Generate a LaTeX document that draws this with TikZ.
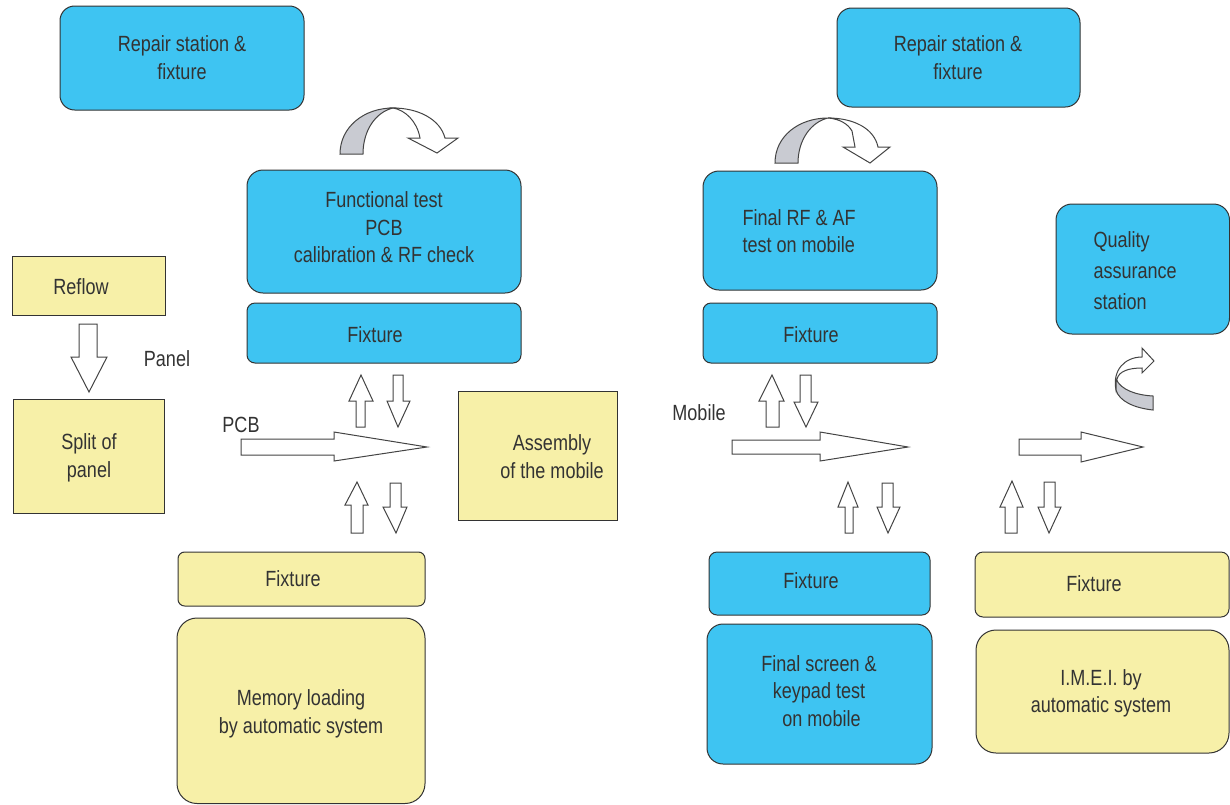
\documentclass[tikz,border=0pt]{standalone}
\usepackage{fontspec}
\setmainfont{Liberation Sans}[FakeStretch=0.82]

\definecolor{stationblue}{HTML}{3EC4F2}
\definecolor{stationyellow}{HTML}{F7F0A8}
\definecolor{boxline}{HTML}{333333}
\definecolor{arrowline}{HTML}{444444}
\definecolor{bandgray}{HTML}{C9CBD2}
\definecolor{labelgray}{HTML}{333333}

\tikzset{every picture/.style={line width=0.75pt}}
\tikzset{
  bluebox/.style={draw=boxline, fill=stationblue, rounded corners=11pt},
  yellowbox/.style={draw=boxline, fill=stationyellow},
  blockarrow/.style={draw=arrowline, fill=white, line join=miter},
  bandarrow/.style={draw=arrowline, fill=bandgray},
  lbl/.style={inner sep=0.75pt, text=labelgray, font=\fontsize{16.5}{20.6}\selectfont, align=center},
}

\begin{document}
\begin{tikzpicture}[x=0.75pt,y=0.75pt,yscale=-1,xscale=1]
%set diagram to 1230 x 804
\useasboundingbox (0,0) rectangle (1230,804);

%Rounded Rect [id:repairLeft]
\draw [bluebox]  (60,6) rectangle (304,110) ;
%Rounded Rect [id:repairRight]
\draw [bluebox]  (837,8) rectangle (1080,107) ;
%Rounded Rect [id:functional]
\draw [bluebox, rounded corners=12pt]  (247,170) rectangle (521,293) ;
%Rounded Rect [id:fixtureTopLeft]
\draw [bluebox, rounded corners=6pt]  (247,303) rectangle (521,363) ;
%Rounded Rect [id:finalRF]
\draw [bluebox, rounded corners=12pt]  (703,171) rectangle (937,290) ;
%Rounded Rect [id:fixtureTopRight]
\draw [bluebox, rounded corners=6pt]  (703,303) rectangle (937,363) ;
%Rounded Rect [id:quality]
\draw [bluebox, rounded corners=12pt]  (1056,204) rectangle (1229.5,334) ;
%Shape: Rectangle [id:reflow]
\draw [yellowbox]  (12,256) rectangle (165,315) ;
%Shape: Rectangle [id:split]
\draw [yellowbox]  (13,399) rectangle (164,513) ;
%Shape: Rectangle [id:assembly]
\draw [yellowbox]  (458,391) rectangle (617,520) ;
%Rounded Rect [id:fixtureBottomLeft]
\draw [yellowbox, rounded corners=5pt]  (178,552) rectangle (425,606) ;
%Rounded Rect [id:memory]
\draw [yellowbox, rounded corners=15pt]  (177,618) rectangle (425,803.5) ;
%Rounded Rect [id:fixtureBottomMid]
\draw [bluebox, rounded corners=6pt]  (709,552) rectangle (930,615) ;
%Rounded Rect [id:finalScreen]
\draw [bluebox, rounded corners=12pt]  (707,624) rectangle (932,764) ;
%Rounded Rect [id:fixtureBottomRight]
\draw [yellowbox, rounded corners=6pt]  (975,552) rectangle (1229,617) ;
%Rounded Rect [id:imei]
\draw [yellowbox, rounded corners=15pt]  (976,630) rectangle (1229,753) ;

%Down Arrow [id:reflowDown]
\draw [blockarrow]  (79,324) -- (97,324) -- (97,357) -- (107,357) -- (89,392) -- (71,357) -- (79,357) -- cycle ;
%Right Arrow [id:pcbRight]
\draw [blockarrow]  (241,439) -- (334,439) -- (334,432) -- (427,447) -- (334,461) -- (334,455) -- (241,455) -- cycle ;
%Up Arrow [id:pcbUpTop]
\draw [blockarrow]  (356,427) -- (356,401) -- (349,401) -- (361,375) -- (373,401) -- (365,401) -- (365,427) -- cycle ;
%Down Arrow [id:pcbDownTop]
\draw [blockarrow]  (393,375) -- (403,375) -- (403,401) -- (410,401) -- (398,427) -- (387,401) -- (393,401) -- cycle ;
%Up Arrow [id:pcbUpBottom]
\draw [blockarrow]  (351,533) -- (351,505) -- (345,505) -- (357,482) -- (368,505) -- (363,505) -- (363,533) -- cycle ;
%Down Arrow [id:pcbDownBottom]
\draw [blockarrow]  (390,483) -- (401,483) -- (401,507) -- (407,507) -- (396,533) -- (383,507) -- (390,507) -- cycle ;
%Up Arrow [id:mobUpTop]
\draw [blockarrow]  (766,427) -- (766,401) -- (759,401) -- (772,375) -- (784,401) -- (779,401) -- (779,427) -- cycle ;
%Down Arrow [id:mobDownTop]
\draw [blockarrow]  (800,375) -- (811,375) -- (811,402) -- (818,402) -- (806,427) -- (794,402) -- (800,402) -- cycle ;
%Right Arrow [id:mobRight]
\draw [blockarrow]  (732,440) -- (820,440) -- (820,432) -- (908,447) -- (820,461) -- (820,454) -- (732,454) -- cycle ;
%Up Arrow [id:mobUpBottom]
\draw [blockarrow]  (845,533) -- (845,507) -- (838,507) -- (848,482) -- (858,507) -- (853,507) -- (853,533) -- cycle ;
%Down Arrow [id:mobDownBottom]
\draw [blockarrow]  (882,483) -- (893,483) -- (893,507) -- (900,507) -- (888,533) -- (877,507) -- (882,507) -- cycle ;
%Right Arrow [id:qaRight]
\draw [blockarrow]  (1019,439) -- (1081,439) -- (1081,432) -- (1143,447) -- (1081,462) -- (1081,455) -- (1019,455) -- cycle ;
%Up Arrow [id:qaUp]
\draw [blockarrow]  (1005,533) -- (1005,507) -- (1000,507) -- (1012,481) -- (1023,507) -- (1017,507) -- (1017,533) -- cycle ;
%Down Arrow [id:qaDown]
\draw [blockarrow]  (1044,482) -- (1055,482) -- (1055,507) -- (1061,507) -- (1049,533) -- (1038,507) -- (1044,507) -- cycle ;

%Curved Arrow [id:repairLoopLeft]
\draw [bandarrow]  (340,154) .. controls (340,127) and (364,108) .. (393,108) .. controls (376,112) and (363,130) .. (363,154) -- cycle ;
\draw [blockarrow]  (393,108) .. controls (418,108) and (440,119) .. (445,138) -- (458,138) -- (437,153) -- (408,138) -- (420,138) .. controls (417,121) and (405,110) .. (393,108) -- cycle ;
%Curved Arrow [id:repairLoopRight]
\draw [bandarrow]  (775,163) .. controls (775,136) and (799,118) .. (828,118) .. controls (811,122) and (798,140) .. (798,163) -- cycle ;
\draw [blockarrow]  (828,118) .. controls (853,118) and (874,128) .. (878,147) -- (890,147) -- (870,163) -- (843,147) -- (855,147) -- (852,131) .. controls (848,124) and (840,119) .. (828,118) -- cycle ;
%Curved Arrow [id:qaLoop]
\draw [blockarrow]  (1116,390) .. controls (1112,370) and (1125,357) .. (1142,357) -- (1142,348) -- (1154,361) -- (1142,373) -- (1142,368) .. controls (1129,368) and (1119,371) .. (1117,379) -- cycle ;
\draw [bandarrow]  (1116,379) .. controls (1121,390) and (1136,395) .. (1153,396) -- (1153,410) .. controls (1134,408) and (1119,401) .. (1116,390) -- cycle ;

% Text Node
\node [lbl] (repairLeftTxt) at (182,57.5) {Repair station \&\\fixture};
% Text Node
\node [lbl] (repairRightTxt) at (958,57.5) {Repair station \&\\fixture};
% Text Node
\node [lbl] (functionalTxt) at (384,227.5) {Functional test\\PCB\\calibration \& RF check};
% Text Node
\node [lbl] (fixtureTopLeftTxt) at (375,335) {Fixture};
% Text Node
\node [lbl, anchor=west, align=left] (finalRFTxt) at (741,231) {Final RF \& AF\\test on mobile};
% Text Node
\node [lbl] (fixtureTopRightTxt) at (811,335) {Fixture};
% Text Node
\node [lbl, anchor=west, align=left, font=\fontsize{16.5}{23.2}\selectfont] (qualityTxt) at (1092,271) {Quality\\assurance\\station};
% Text Node
\node [lbl] (reflowTxt) at (81,287) {Reflow};
% Text Node
\node [lbl] (splitTxt) at (89,458) {Split of\\panel};
% Text Node
\node [lbl] (assemblyTxt) at (552,456.5) {Assembly\\of the mobile};
% Text Node
\node [lbl] (fixtureBottomLeftTxt) at (293,579) {Fixture};
% Text Node
\node [lbl] (memoryTxt) at (301,714) {Memory loading\\by automatic system};
% Text Node
\node [lbl] (fixtureBottomMidTxt) at (811,581) {Fixture};
% Text Node
\node [lbl] (finalScreenTxt) at (819,691) {Final screen \&\\keypad test\\\ on mobile};
% Text Node
\node [lbl] (fixtureBottomRightTxt) at (1094,584) {Fixture};
% Text Node
\node [lbl] (imeiTxt) at (1101,693.5) {I.M.E.I. by\\automatic system};
% Text Node
\node [lbl] (panelTxt) at (167,359) {Panel};
% Text Node
\node [lbl] (pcbTxt) at (241,425) {PCB};
% Text Node
\node [lbl] (mobileTxt) at (699,413) {Mobile};

\end{tikzpicture}
\end{document}
